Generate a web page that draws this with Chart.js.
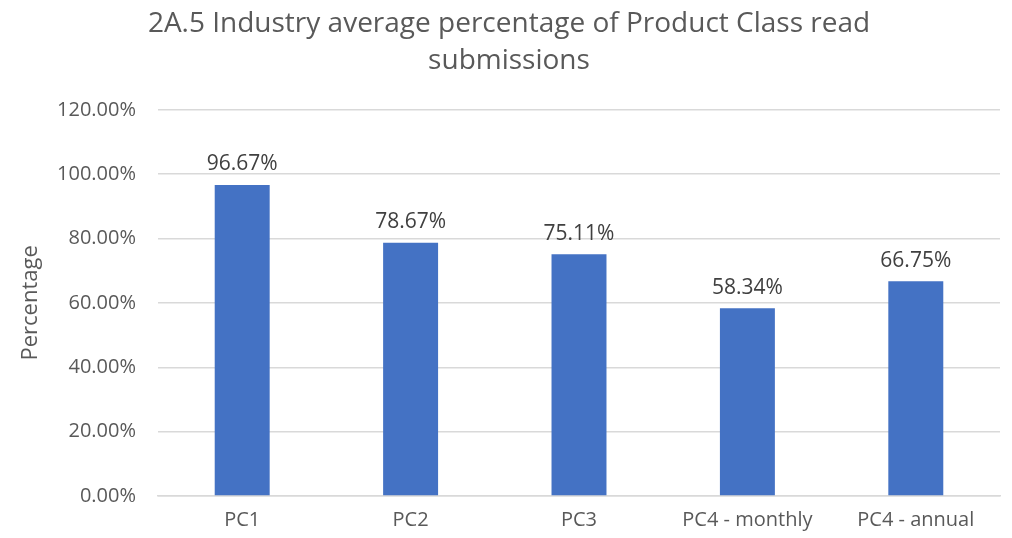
<!DOCTYPE html>
<html>
<head>
<meta charset="utf-8">
<script src="https://cdn.jsdelivr.net/npm/chart.js@4"></script>
<style>
  html, body { margin: 0; padding: 0; background: #fff; }
  #wrap { width: 1012px; height: 538px; }
</style>
</head>
<body>
<div id="wrap"><canvas id="chart"></canvas></div>
<script>
const categories = ["PC1", "PC2", "PC3", "PC4 - monthly", "PC4 - annual"];
const values = [96.67, 78.67, 75.11, 58.34, 66.75];
const yTicks = [0, 20, 40, 60, 80, 100, 120];

const FONT = "'Open Sans', 'Noto Sans', sans-serif";
const GREY = "#595959";

// draw value labels above each bar
const barLabels = {
    id: "barLabels",
    afterDatasetsDraw(chart) {
        const ctx = chart.ctx;
        const meta = chart.getDatasetMeta(0);
        ctx.save();
        ctx.font = "21px " + FONT;
        ctx.fillStyle = "#404040";
        ctx.textAlign = "center";
        ctx.textBaseline = "bottom";
        meta.data.forEach((bar, i) => {
            ctx.fillText(values[i].toFixed(2) + "%", bar.x, bar.y - 10);
        });
        ctx.restore();
    }
};

new Chart(document.getElementById("chart"), {
    type: "bar",
    data: {
        labels: categories,
        datasets: [{ data: values, backgroundColor: "#4472C4", barPercentage: 0.64, categoryPercentage: 0.51 }]
    },
    options: {
        responsive: true,
        maintainAspectRatio: false,
        animation: false,
        layout: { padding: { top: 6, right: 12, left: 18, bottom: 0 } },
        plugins: {
            legend: { display: false },
            tooltip: { enabled: false },
            title: {
                display: true,
                text: ["2A.5 Industry average percentage of Product Class read", "submissions"],
                color: GREY,
                font: { family: FONT, size: 28, weight: "normal", lineHeight: 1.3 },
                padding: { top: 0, bottom: 31 }
            }
        },
        scales: {
            x: {
                grid: { display: false, drawTicks: false },
                border: { color: "#D9D9D9", width: 1.5 },
                ticks: { color: GREY, font: { family: FONT, size: 20 }, padding: 12, maxRotation: 0 },
                afterFit(scale) { scale.height = 42; }
            },
            y: {
                min: 0,
                max: 120,
                afterBuildTicks(scale) { scale.ticks = yTicks.map(v => ({ value: v })); },
                grid: { color: "#D9D9D9", lineWidth: 1.5, drawTicks: false },
                border: { display: false },
                ticks: {
                    color: GREY,
                    font: { family: FONT, size: 20 },
                    padding: 22,
                    callback: v => v.toFixed(2) + "%"
                },
                title: {
                    display: true,
                    text: "Percentage",
                    color: GREY,
                    font: { family: FONT, size: 22 },
                    padding: { top: 0, bottom: 0 }
                },
                afterFit(scale) { scale.width = 140; }
            }
        }
    },
    plugins: [barLabels]
});
</script>
</body>
</html>
